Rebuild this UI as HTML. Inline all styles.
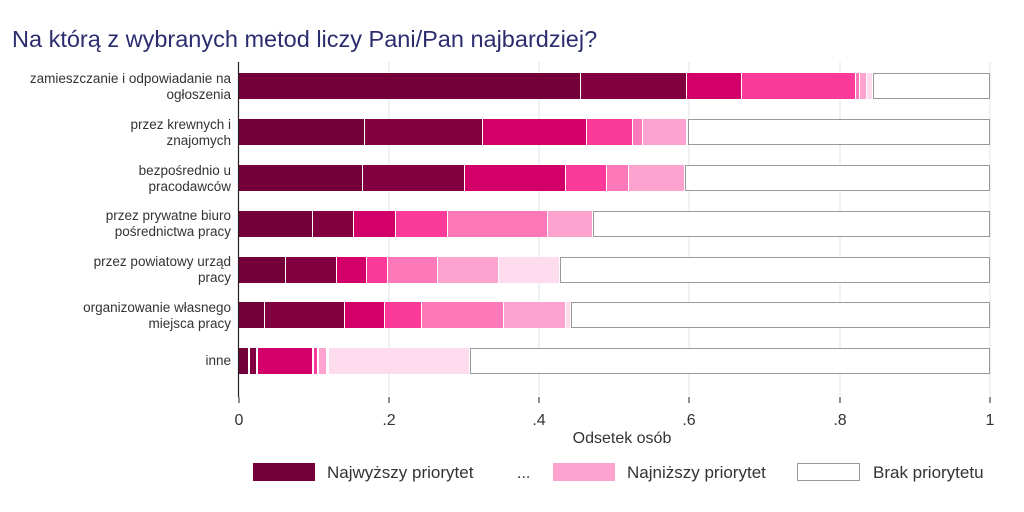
<!DOCTYPE html>
<html><head><meta charset="utf-8"><style>
html,body{margin:0;padding:0;background:#fff;}
svg{display:block;font-family:"Liberation Sans",sans-serif;}
</style></head><body>
<svg width="1024" height="512" xmlns="http://www.w3.org/2000/svg">
<rect width="1024" height="512" fill="#fff"/>
<text x="12" y="47" font-size="23.5" fill="#2b2d6e">Na którą z wybranych metod liczy Pani/Pan najbardziej?</text>
<g stroke="#e6edf2" stroke-width="1.5">
<line x1="389" y1="62" x2="389" y2="396"/><line x1="539" y1="62" x2="539" y2="396"/>
<line x1="689" y1="62" x2="689" y2="396"/><line x1="840" y1="62" x2="840" y2="396"/>
<line x1="990" y1="62" x2="990" y2="396"/>
</g>
<g>
<!-- row 1 -->
<rect x="239" y="73" width="341" height="26" fill="#730039"/>
<rect x="581" y="73" width="105" height="26" fill="#820040"/>
<rect x="687" y="73" width="54" height="26" fill="#d3006a"/>
<rect x="742" y="73" width="113" height="26" fill="#fc3a9a"/>
<rect x="856" y="73" width="3" height="26" fill="#fd78b8"/>
<rect x="860" y="73" width="6" height="26" fill="#fea3cf"/>
<rect x="867" y="73" width="5" height="26" fill="#fedcee"/>
<rect x="873.5" y="73.5" width="116" height="25" fill="#fff" stroke="#999"/>
<!-- row 2 -->
<rect x="239" y="119" width="125" height="26" fill="#730039"/>
<rect x="365" y="119" width="117" height="26" fill="#820040"/>
<rect x="483" y="119" width="103" height="26" fill="#d3006a"/>
<rect x="587" y="119" width="45" height="26" fill="#fc3a9a"/>
<rect x="633" y="119" width="9" height="26" fill="#fd78b8"/>
<rect x="643" y="119" width="43" height="26" fill="#fea3cf"/>
<rect x="688.5" y="119.5" width="301" height="25" fill="#fff" stroke="#999"/>
<!-- row 3 -->
<rect x="239" y="165" width="123" height="26" fill="#730039"/>
<rect x="363" y="165" width="101" height="26" fill="#820040"/>
<rect x="465" y="165" width="100" height="26" fill="#d3006a"/>
<rect x="566" y="165" width="40" height="26" fill="#fc3a9a"/>
<rect x="607" y="165" width="21" height="26" fill="#fd78b8"/>
<rect x="629" y="165" width="55" height="26" fill="#fea3cf"/>
<rect x="685.5" y="165.5" width="304" height="25" fill="#fff" stroke="#999"/>
<!-- row 4 -->
<rect x="239" y="211" width="73" height="26" fill="#730039"/>
<rect x="313" y="211" width="40" height="26" fill="#820040"/>
<rect x="354" y="211" width="41" height="26" fill="#d3006a"/>
<rect x="396" y="211" width="51" height="26" fill="#fc3a9a"/>
<rect x="448" y="211" width="99" height="26" fill="#fd78b8"/>
<rect x="548" y="211" width="44" height="26" fill="#fea3cf"/>
<rect x="593.5" y="211.5" width="396" height="25" fill="#fff" stroke="#999"/>
<!-- row 5 -->
<rect x="239" y="257" width="46" height="26" fill="#730039"/>
<rect x="286" y="257" width="50" height="26" fill="#820040"/>
<rect x="337" y="257" width="29" height="26" fill="#d3006a"/>
<rect x="367" y="257" width="20" height="26" fill="#fc3a9a"/>
<rect x="388" y="257" width="49" height="26" fill="#fd78b8"/>
<rect x="438" y="257" width="60" height="26" fill="#fea3cf"/>
<rect x="499" y="257" width="60" height="26" fill="#fedcee"/>
<rect x="560.5" y="257.5" width="429" height="25" fill="#fff" stroke="#999"/>
<!-- row 6 -->
<rect x="239" y="302" width="25" height="26" fill="#730039"/>
<rect x="265" y="302" width="79" height="26" fill="#820040"/>
<rect x="345" y="302" width="39" height="26" fill="#d3006a"/>
<rect x="385" y="302" width="36" height="26" fill="#fc3a9a"/>
<rect x="422" y="302" width="81" height="26" fill="#fd78b8"/>
<rect x="504" y="302" width="61" height="26" fill="#fea3cf"/>
<rect x="566" y="302" width="4" height="26" fill="#fedcee"/>
<rect x="571.5" y="302.5" width="418" height="25" fill="#fff" stroke="#999"/>
<!-- row 7 -->
<rect x="239" y="348" width="9" height="26" fill="#730039"/>
<rect x="250" y="348" width="6" height="26" fill="#820040"/>
<rect x="258" y="348" width="54" height="26" fill="#d3006a"/>
<rect x="314" y="348" width="3" height="26" fill="#fc3a9a"/>
<rect x="319" y="348" width="7" height="26" fill="#fea3cf"/>
<rect x="329" y="348" width="140" height="26" fill="#fedcee"/>
<rect x="470.5" y="348.5" width="519" height="25" fill="#fff" stroke="#999"/>
</g>
<line x1="238.5" y1="62" x2="238.5" y2="397" stroke="#222" stroke-width="1.2"/>
<g stroke="#222"><line x1="239" y1="397" x2="239" y2="403"/><line x1="389" y1="397" x2="389" y2="403"/><line x1="539" y1="397" x2="539" y2="403"/><line x1="689" y1="397" x2="689" y2="403"/><line x1="840" y1="397" x2="840" y2="403"/><line x1="990" y1="397" x2="990" y2="403"/></g>
<g font-size="16" fill="#333" text-anchor="middle">
<text x="239" y="425">0</text><text x="389" y="425">.2</text><text x="539" y="425">.4</text><text x="689" y="425">.6</text><text x="840" y="425">.8</text><text x="990" y="425">1</text>
<text x="622" y="443">Odsetek osób</text>
</g>
<g font-size="13.5" fill="#333" text-anchor="end">
<text x="231" y="83">zamieszczanie i odpowiadanie na</text><text x="231" y="99">ogłoszenia</text>
<text x="231" y="129">przez krewnych i</text><text x="231" y="145">znajomych</text>
<text x="231" y="175">bezpośrednio u</text><text x="231" y="191">pracodawców</text>
<text x="231" y="220">przez prywatne biuro</text><text x="231" y="236">pośrednictwa pracy</text>
<text x="231" y="266">przez powiatowy urząd</text><text x="231" y="282">pracy</text>
<text x="231" y="312">organizowanie własnego</text><text x="231" y="328">miejsca pracy</text>
<text x="231" y="365">inne</text>
</g>
<rect x="253" y="463" width="62" height="18" fill="#730039"/>
<text x="327" y="478" font-size="17" fill="#333">Najwyższy priorytet</text>
<text x="517" y="478" font-size="16" fill="#333">...</text>
<rect x="553" y="463" width="62" height="18" fill="#fea3cf"/>
<text x="627" y="478" font-size="17" fill="#333">Najniższy priorytet</text>
<rect x="797.5" y="463.5" width="62" height="17" fill="#fff" stroke="#999"/>
<text x="873" y="478" font-size="17" fill="#333">Brak priorytetu</text>
</svg>
</body></html>
